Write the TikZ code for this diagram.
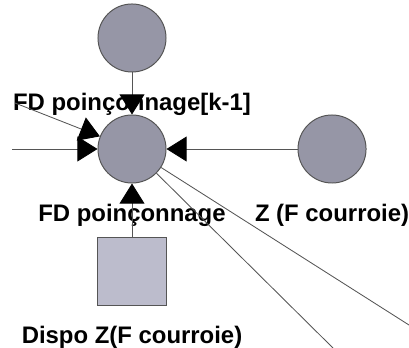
\documentclass[tikz,border=0pt]{standalone}
\usepackage{fontspec}
\setmainfont{Liberation Sans}
\usepackage{tikz}
\usetikzlibrary{arrows.meta, positioning}
\definecolor{netgray}{RGB}{150,150,166}
\definecolor{netlight}{RGB}{188,188,204}
\definecolor{netline}{RGB}{85,85,85}
\tikzset{
  var/.style={circle, draw=netline, fill=netgray, line width=0.7pt,
    minimum size=17mm, inner sep=0pt},
  dispo/.style={rectangle, draw=netline, fill=netlight, line width=0.7pt,
    minimum size=17mm, inner sep=0pt},
  nlbl/.style={font=\fontsize{17}{20}\selectfont\bfseries, inner sep=0pt, align=center},
  arrow/.style={-{Triangle[length=5mm, width=6.2mm, color=black]}, line width=0.6pt, draw=netline},
  wire/.style={line width=0.6pt, draw=netline}
}
\begin{document}
\begin{tikzpicture}[x=0.025cm, y=-0.025cm]
  \useasboundingbox (0,0) rectangle (409,348);
  \node[var] (fd) at (132,149) {};
  \node[var, above=10.5mm of fd] (fdk) {};
  \node[var, right=32.75mm of fd] (zf) {};
  \node[dispo, below=13.25mm of fd] (dz) {};
  \node[nlbl, below=5.2mm of fdk] (fdklbl) {FD poinçonnage[k-1]};
  \node[nlbl, below=5.2mm of fd] (fdlbl) {FD poinçonnage};
  \node[nlbl, below=5.2mm of zf] (zflbl) {Z (F courroie)};
  \node[nlbl, below=5.2mm of dz] (dzlbl) {Dispo Z(F courroie)};
  \coordinate (inh) at (12,149);
  \coordinate (ind) at (15,103);
  \coordinate (outa) at (333,348);
  \coordinate (outb) at (409,325);
  \draw[arrow] (fdk) -- (fd);
  \draw[arrow] (inh) -- (fd);
  \draw[arrow] (ind) -- (fd);
  \draw[arrow] (zf) -- (fd);
  \draw[arrow] (dz) -- (fd);
  \draw[wire] (fd) -- (outa);
  \draw[wire] (fd) -- (outb);
\end{tikzpicture}
\end{document}
